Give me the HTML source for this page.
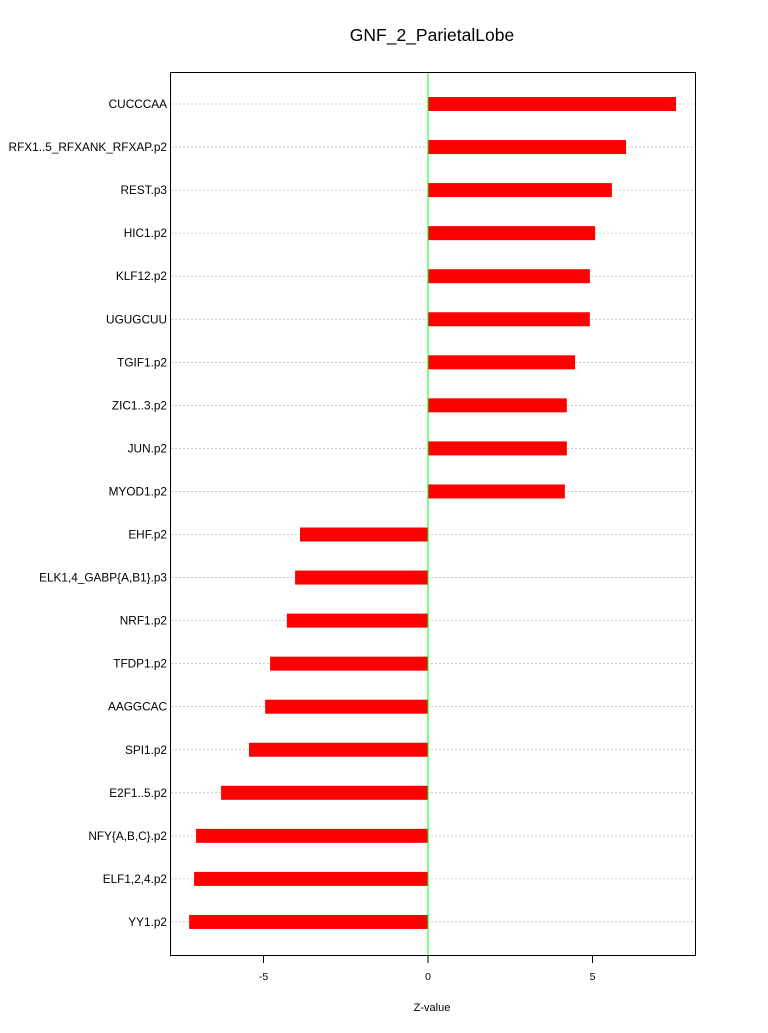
<!DOCTYPE html>
<html><head><meta charset="utf-8"><style>
body{margin:0;background:#fff;}
svg text{font-family:"Liberation Sans",sans-serif;}
</style></head><body>
<svg id="chart" width="768" height="1028" xmlns="http://www.w3.org/2000/svg">
<text x="432" y="41" font-size="17.5" text-anchor="middle">GNF_2_ParietalLobe</text>
<g id="grid"></g><g id="bars"></g><g id="labels"></g><g id="xaxis"></g>
<line x1="428" y1="72" x2="428" y2="956" stroke="#00ff00" stroke-width="1"/>
<rect x="170.5" y="72.5" width="525" height="883" fill="none" stroke="#000"/>
<text x="432" y="1011" font-size="11" text-anchor="middle">Z-value</text>
</svg>
<script>
const categories=["CUCCCAA","RFX1..5_RFXANK_RFXAP.p2","REST.p3","HIC1.p2","KLF12.p2","UGUGCUU","TGIF1.p2","ZIC1..3.p2","JUN.p2","MYOD1.p2","EHF.p2","ELK1,4_GABP{A,B1}.p3","NRF1.p2","TFDP1.p2","AAGGCAC","SPI1.p2","E2F1..5.p2","NFY{A,B,C}.p2","ELF1,2,4.p2","YY1.p2"];
const values=[7.54,6.02,5.59,5.08,4.92,4.92,4.47,4.22,4.22,4.16,-3.89,-4.04,-4.29,-4.80,-4.95,-5.44,-6.29,-7.05,-7.11,-7.26];
const ticks=[-5,0,5];
const NS="http://www.w3.org/2000/svg";
const x=v=>428+v*32.9;
const y=i=>104+i*43.05;
function mk(t,a,p){const e=document.createElementNS(NS,t);for(const k in a)e.setAttribute(k,a[k]);document.getElementById(p).appendChild(e);return e;}
categories.forEach((c,i)=>{
  const g=mk("line",{x1:171,x2:695,y1:y(i),y2:y(i),stroke:"#bbb","stroke-dasharray":"2,2","stroke-width":0.8},"grid");
  
  
  const v=values[i];
  const b=mk("rect",{x:Math.min(x(0),x(v)),y:y(i)-7,width:Math.abs(x(v)-x(0)),height:14,fill:"#ff0000"},"bars");
  
  
  const t=mk("text",{x:167,y:y(i)+4,"font-size":11.8,"text-anchor":"end"},"labels");
  t.textContent=c;
  
  
});
ticks.forEach(v=>{
  const l=mk("line",{x1:x(v),x2:x(v),y1:956,y2:963,stroke:"#000"},"xaxis");
  
  
  const t=mk("text",{x:x(v),y:980,"font-size":10.5,"text-anchor":"middle"},"xaxis");
  t.textContent=v;
  
  
});
</script>
</body></html>
